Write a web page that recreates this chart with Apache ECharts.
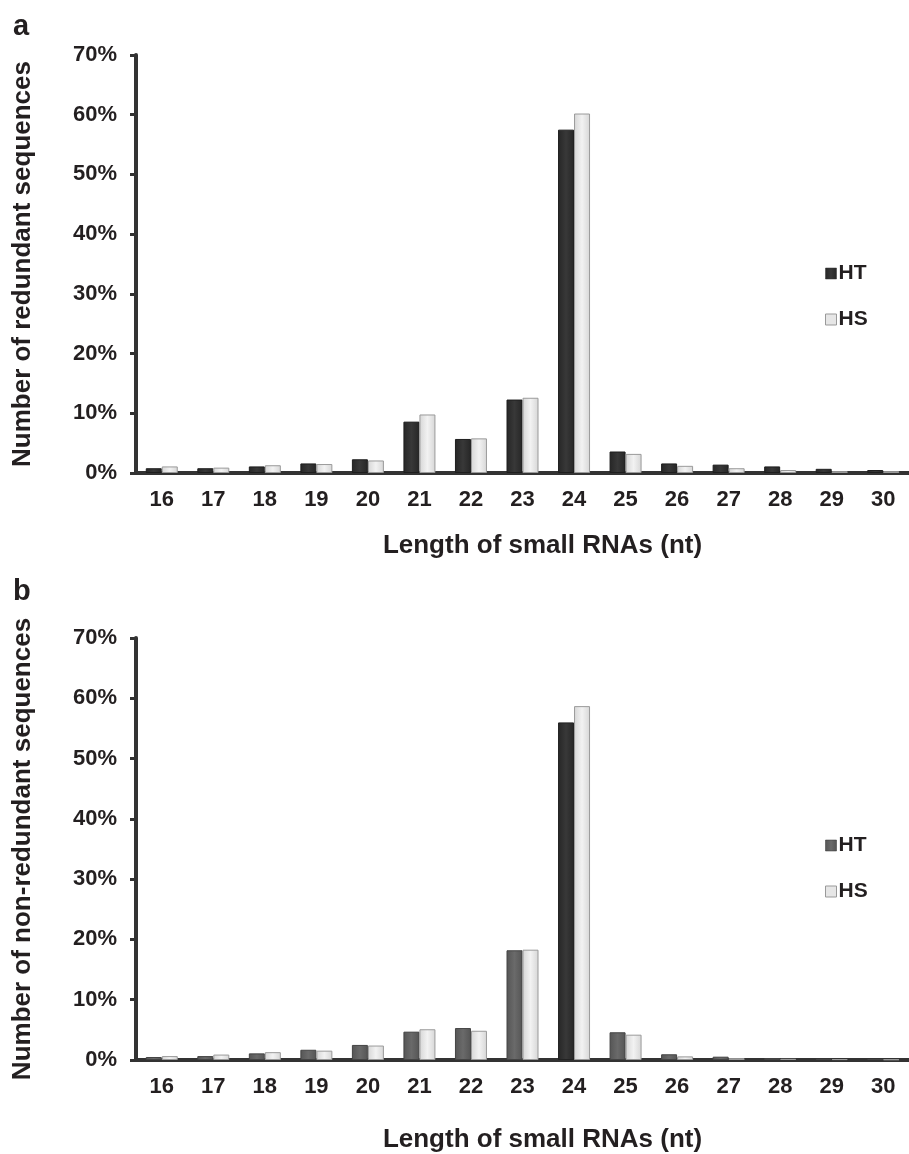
<!DOCTYPE html>
<html>
<head>
<meta charset="utf-8">
<script src="https://cdn.jsdelivr.net/npm/echarts@6/dist/echarts.min.js"></script>
<style>
  html, body { margin: 0; padding: 0; background: #fff; }
  #chart { width: 909px; height: 1154px; }
</style>
</head>
<body>
<div id="chart"></div>
<script>
// small RNA length (nt)
const lengths = ['16', '17', '18', '19', '20', '21', '22', '23', '24', '25', '26', '27', '28', '29', '30'];

// panel a: redundant sequences (%)
const redundantHT = [0.8, 0.8, 1.1, 1.6, 2.3, 8.6, 5.7, 12.3, 57.5, 3.6, 1.6, 1.4, 1.1, 0.7, 0.5];
const redundantHS = [1.1, 0.9, 1.3, 1.5, 2.1, 9.8, 5.8, 12.6, 60.2, 3.2, 1.2, 0.8, 0.5, 0.3, 0.3];

// panel b: non-redundant sequences (%)
const nonRedundantHT = [0.5, 0.65, 1.1, 1.7, 2.5, 4.7, 5.3, 18.2, 56.0, 4.6, 0.95, 0.55, 0.3, 0.2, 0.15];
const nonRedundantHS = [0.65, 0.9, 1.3, 1.55, 2.4, 5.1, 4.85, 18.3, 58.7, 4.2, 0.6, 0.3, 0.2, 0.15, 0.1];

const yTicks = [0, 10, 20, 30, 40, 50, 60, 70];

const FONT = 'Liberation Sans, Arial, sans-serif';
const TXT = '#231f20';

const chart = echarts.init(document.getElementById('chart'));

function barFill(edge, mid) {
  return {
    type: 'linear', x: 0, y: 0, x2: 1, y2: 0,
    colorStops: [
      { offset: 0, color: edge },
      { offset: 0.5, color: mid },
      { offset: 1, color: edge }
    ]
  };
}
const darkFill = barFill('#262626', '#383838');
const midFill = barFill('#555555', '#6a6a6a');
const lightFill = barFill('#d6d6d6', '#f2f2f2');

function xAxisFor(gridIndex, nameGap) {
  return {
    type: 'category',
    gridIndex: gridIndex,
    data: lengths,
    axisLine: { lineStyle: { color: '#333', width: 4 } },
    axisTick: { show: false },
    axisLabel: { color: TXT, fontSize: 22, fontWeight: 'bold', fontFamily: FONT, margin: 16 },
    name: 'Length of small RNAs (nt)',
    nameLocation: 'middle',
    nameGap: nameGap,
    // title sits a little right of the plot centre in the original
    nameTextStyle: { color: TXT, fontSize: 26, fontWeight: 'bold', fontFamily: FONT, padding: [0, 0, 0, 40] }
  };
}

function yAxisFor(gridIndex, title) {
  return {
    type: 'value',
    gridIndex: gridIndex,
    min: yTicks[0],
    max: yTicks[yTicks.length - 1],
    interval: 10,
    splitLine: { show: false },
    axisLine: { show: true, lineStyle: { color: '#333', width: 4 } },
    axisTick: { show: true, length: 6, lineStyle: { color: '#333', width: 3 } },
    axisLabel: { color: TXT, fontSize: 22, fontWeight: 'bold', fontFamily: FONT, margin: 19, formatter: '{value}%' },
    name: title,
    nameLocation: 'middle',
    nameGap: 100,
    nameTextStyle: { color: TXT, fontSize: 26, fontWeight: 'bold', fontFamily: FONT }
  };
}

function legendFor(top, htColor) {
  return {
    orient: 'vertical',
    left: 820,
    top: top,
    itemGap: 25,
    itemWidth: 11,
    itemHeight: 11,
    icon: 'rect',
    textStyle: { color: TXT, fontSize: 21, fontWeight: 'bold', fontFamily: FONT, padding: [0, 0, 0, -3] },
    data: [
      { name: 'HT', itemStyle: { color: htColor, borderColor: '#333', borderWidth: 0.5 } },
      { name: 'HS', itemStyle: { color: '#e6e6e6', borderColor: '#999', borderWidth: 1 } }
    ],
    selectedMode: false
  };
}

// panel b: the 24 nt HT bar is darker than the rest
const nonRedundantHTData = nonRedundantHT.map((v, i) =>
  lengths[i] === '24' ? { value: v, itemStyle: { color: darkFill, borderColor: '#222' } } : v
);

const htStyle = { color: darkFill, borderColor: '#1e1e1e', borderWidth: 1 };
const htStyleB = { color: midFill, borderColor: '#444', borderWidth: 1 };
const hsStyle = { color: lightFill, borderColor: '#9a9a9a', borderWidth: 1 };

const option = {
  animation: false,
  backgroundColor: '#fff',
  textStyle: { fontFamily: FONT },
  title: [
    { text: 'a', left: 8, top: 7, textStyle: { color: TXT, fontSize: 29, fontWeight: 'bold', fontFamily: FONT } },
    { text: 'b', left: 8, top: 572, textStyle: { color: TXT, fontSize: 29, fontWeight: 'bold', fontFamily: FONT } }
  ],
  legend: [legendFor(258, darkFill), legendFor(830, midFill)],
  grid: [
    { left: 136, top: 55, width: 782, height: 418 },
    { left: 136, top: 638, width: 782, height: 424 }
  ],
  xAxis: [xAxisFor(0, 60), xAxisFor(1, 67)],
  yAxis: [
    yAxisFor(0, 'Number of redundant sequences'),
    yAxisFor(1, 'Number of non-redundant sequences')
  ],
  series: [
    { name: 'HT', type: 'bar', xAxisIndex: 0, yAxisIndex: 0, data: redundantHT, barWidth: 16, barGap: '0%', itemStyle: htStyle },
    { name: 'HS', type: 'bar', xAxisIndex: 0, yAxisIndex: 0, data: redundantHS, barWidth: 16, barGap: '0%', itemStyle: hsStyle },
    { name: 'HT', type: 'bar', xAxisIndex: 1, yAxisIndex: 1, data: nonRedundantHTData, barWidth: 16, barGap: '0%', itemStyle: htStyleB },
    { name: 'HS', type: 'bar', xAxisIndex: 1, yAxisIndex: 1, data: nonRedundantHS, barWidth: 16, barGap: '0%', itemStyle: hsStyle }
  ]
};

chart.setOption(option);
</script>
</body>
</html>
